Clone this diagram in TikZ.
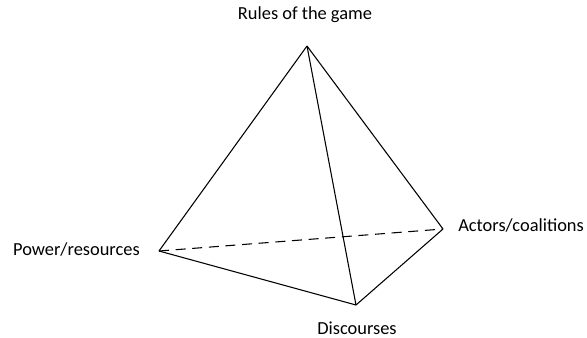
\documentclass[tikz,border=0pt]{standalone}
\usepackage{fontspec}
\setmainfont{Carlito}
\usetikzlibrary{positioning}

\begin{document}
\begin{tikzpicture}[
  x=0.75pt, y=-0.75pt,
  edge/.style={draw=black, line width=0.8pt, line join=round},
  hidden/.style={edge, dash pattern=on 7.5pt off 5pt},
  lbl/.style={font=\fontsize{13.8}{16}\selectfont, inner sep=0pt},
]
  \useasboundingbox (0,0) rectangle (587,337);
  \coordinate (rules) at (307,46);
  \coordinate (power) at (159,251);
  \coordinate (actors) at (443,229);
  \coordinate (disc) at (356,305);
  \node[lbl] (lrules) at (305,15) {Rules of the game};
  \node[lbl, anchor=east] (lpower) at (140,249) {Power/resources};
  \node[lbl, anchor=west] (lactors) at (458,225) {Actors/coalitions};
  \node[lbl] (ldisc) at (357,328) {Discourses};
  \draw[hidden] (power) -- (actors);
  \draw[edge] (rules) -- (power);
  \draw[edge] (rules) -- (actors);
  \draw[edge] (rules) -- (disc);
  \draw[edge] (power) -- (disc);
  \draw[edge] (disc) -- (actors);
\end{tikzpicture}
\end{document}
